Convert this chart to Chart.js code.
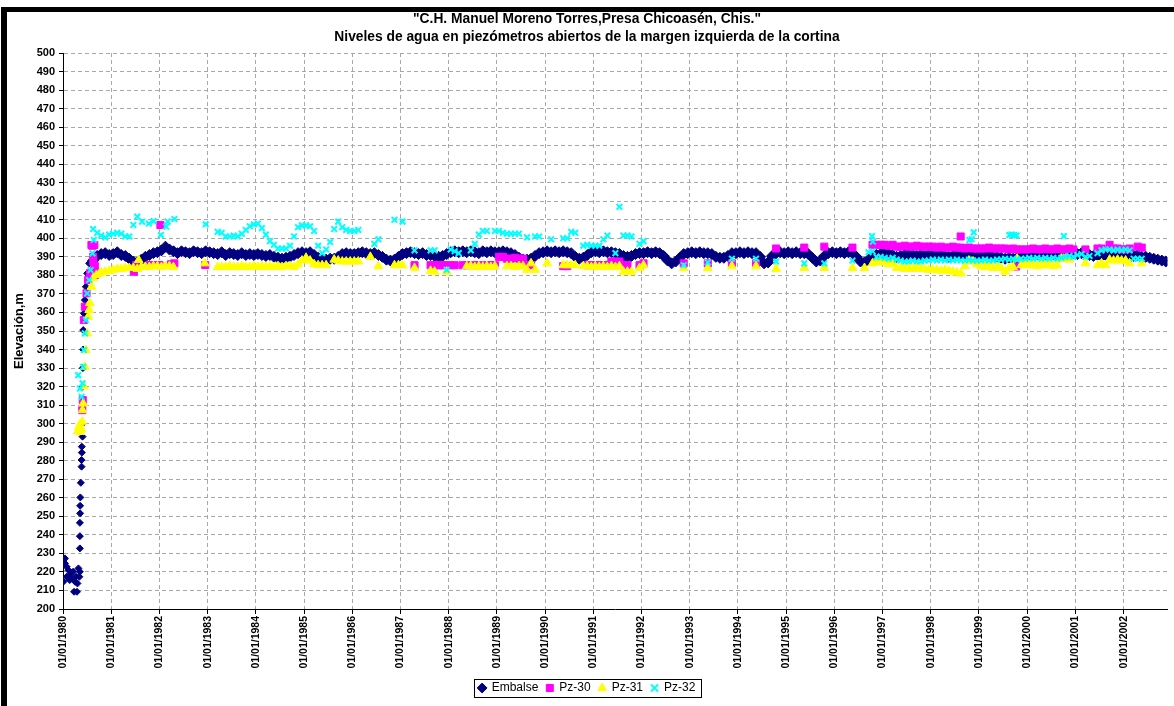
<!DOCTYPE html>
<html>
<head>
<meta charset="utf-8">
<title>Chicoasén - piezómetros margen izquierda</title>
<script src="https://cdn.jsdelivr.net/npm/chart.js@4.4.0/dist/chart.umd.min.js"></script>
<style>
    html, body { margin: 0; padding: 0; background: #fff; }
    #wrap { position: relative; width: 1174px; height: 706px; overflow: hidden; }
    #frame {
        position: absolute; left: 1px; top: 7px; width: 1400px; height: 900px;
        border-left: 6px solid #000; border-top: 5px solid #000; pointer-events: none;
    }
</style>
</head>
<body>
<div id="wrap">
    <canvas id="chart" width="1174" height="706"></canvas>
    <div id="frame"></div>
</div>
<script>
const _ = null;

const chartTitle = [
    '"C.H. Manuel Moreno Torres,Presa Chicoasén, Chis."',
    'Niveles de agua en piezómetros abiertos de la margen izquierda de la cortina'
];
const yTitle = 'Elevación,m';
const seriesNames = ['Embalse', 'Pz-30', 'Pz-31', 'Pz-32'];

// x axis: one tick per year, labelled 01/01/yyyy
const firstYear = 1980;
const yearTicks = [1980, 1981, 1982, 1983, 1984, 1985, 1986, 1987, 1988, 1989, 1990, 1991,
                   1992, 1993, 1994, 1995, 1996, 1997, 1998, 1999, 2000, 2001, 2002];
const lastYearShown = 2002.91;
const yMin = 200;
const yMax = 500;
const yStep = 10;

// Embalse: readings during the filling of 1980 (decimal year, elevation m)
const embalseEarly = [
    [1980.007, 226.4], [1980.04, 227.3], [1980.04, 224.6], [1980.075, 222.8], [1980.007, 214.7],
    [1980.075, 217.4], [1980.11, 221], [1980.14, 218.3], [1980.14, 215.6], [1980.18, 216.5],
    [1980.21, 220.1], [1980.23, 209.3], [1980.25, 214.7], [1980.27, 217.4], [1980.29, 209.3],
    [1980.3, 213.8], [1980.32, 221.9], [1980.34, 217.4], [1980.35, 220.1],
    [1980.35, 232.7], [1980.35, 239.3], [1980.35, 246.5], [1980.355, 251.6], [1980.355, 255.7],
    [1980.36, 260.2], [1980.37, 268.1], [1980.385, 276.8], [1980.385, 280.4], [1980.39, 284.4],
    [1980.39, 287.6], [1980.405, 293], [1980.402, 300], [1980.406, 310], [1980.412, 320],
    [1980.412, 330], [1980.419, 340], [1980.42, 350.5], [1980.433, 359.5], [1980.454, 366.7],
    [1980.474, 373.9], [1980.501, 381.1], [1980.542, 386.5]
];

// Embalse: one reading per month (Jan..Dec), one row per year from 1980
const embalseMonthly = [
    [_, _, _, _, _, _, _, 388, 390.5, 391.5, 392, 391],
    [391.5, 392.5, 391, 390.5, 389, 387.5, 387, 388.5, 390, 391, 392, 392.5],
    [393.5, 395.5, 394, 393, 392, 393, 392.5, 392, 393, 392.5, 392, 393],
    [392.5, 392, 391.5, 392.5, 391, 392, 391.5, 391, 392, 391, 391.5, 391],
    [391.5, 391, 390.5, 391, 390, 389.5, 389, 389.5, 390, 391, 392, 392.5],
    [392, 392.5, 391, 389.5, 388.5, 388.5, 389, 389, 390, 391.5, 392, 391.5],
    [391.5, 392, 392.5, 392, 391.5, 392, 391, 390, 388.5, 388, 388.5, 390],
    [391.5, 392, 392.5, 392, 391.5, 392, 391, 391, 390.5, 390, 390.5, 391.5],
    [392.5, 393, 392.5, 393, 392.5, 393, 392.5, 392, 393, 392.5, 393, 392.5],
    [392.5, 393, 392.5, 392, 391, 389.5, 388.5, 388.5, 389, 390.5, 392, 392.5],
    [393, 392.5, 393, 392.5, 393, 392.5, 392, 390, 389, 389.5, 391, 392.5],
    [393, 392.5, 393, 392.5, 392.5, 392, 391.5, 390.5, 390, 390.5, 391.5, 392],
    [392, 392.5, 392, 392.5, 392, 390.5, 388, 386.5, 387.5, 389.5, 391.5, 392],
    [392.5, 392, 392.5, 392, 392, 391.5, 390, 389.5, 389.5, 390.5, 392, 392],
    [392.5, 392, 392.5, 392, 392, 390, 386.5, 387, 390.5, 392, 392.5, 392],
    [392.5, 392, 392.5, 392, 392, 391.5, 389.5, 387.5, 388, 390.5, 392, 392.5],
    [392, 392.5, 392, 392.5, 392, 390, 387.5, 387, 388.5, 390, 391, 391.5],
    [392, 391.5, 391, 390, 390.5, 391, 391.5, 391, 390.5, 391, 390.5, 391],
    [391, 391.5, 391, 390.5, 390, 390.5, 391, 391.5, 391, 391.5, 390.5, 391],
    [391, 391.5, 391, 390.5, 390, 389.5, 389, 389.5, 389, 389.5, 390, 391],
    [391.5, 392, 391.5, 392, 391.5, 392, 391.5, 391, 391.5, 392, 391.5, 392],
    [391.5, 392, 391.5, 391, 390.5, 391, 390.5, 391, 390.5, 391, 390.5, 391],
    [390.5, 391, 390.5, 391, 390, 390, 389.5, 389, 388.5, 388, 387.5, _]
];

// Pz-30: isolated readings (decimal year, elevation m)
const pz30Extra = [
    [1980.40, 307.3], [1980.41, 312.7], [1980.433, 355.9], [1980.454, 363.1], [1980.488, 370.3],
    [1980.521, 377.5], [1980.557, 381.1], [1980.59, 396.4], [1980.61, 396], [1980.65, 396.4],
    [1980.625, 390], [1980.63, 387.4], [1980.66, 385], [1980.65, 382.9], [1980.66, 380.2],
    [1981.47, 382], [1981.48, 383.8], [1981.52, 385.6], [1981.79, 385.6], [1981.9, 385.6],
    [1982.0, 385.6], [1982.02, 407.2], [1982.24, 386], [1982.31, 386.5], [1982.95, 385.6],
    [1998.62, 401], [1999.77, 384.8]
];

// Pz-30: monthly readings, one row per year from 1980
const pz30Monthly = [
    [_, _, _, _, _, _, _, _, _, _, _, _],
    [_, _, _, _, _, _, _, _, _, _, _, _],
    [_, _, _, _, _, _, _, _, _, _, _, _],
    [_, _, _, _, _, _, _, _, _, _, _, _],
    [_, _, _, _, _, _, _, _, _, _, _, _],
    [_, _, _, _, _, _, _, _, _, _, _, _],
    [_, _, _, _, _, _, _, _, _, _, _, _],
    [_, _, _, 385.5, _, _, _, 385.5, 385.5, 385.5, 385.5, 385.5],
    [385.5, 385.5, _, 385.5, 385.5, _, 385.5, 385.5, _, 385.5, 385.5, 385.5],
    [390, 390, 389, 389, 389.5, 389, 389, 385.5, 385.5, _, _, _],
    [_, _, _, _, 385, 385, _, _, _, _, 385.5, 385.5],
    [385.5, 385.5, 385.5, 385.5, 387.5, 387.5, 387.5, 385.5, 385.5, _, _, 385.5],
    [386.5, _, _, _, _, _, _, _, _, _, 386.5, _],
    [_, _, _, _, 386.5, _, _, _, _, _, 386.5, _],
    [_, _, _, _, 386.5, _, _, _, _, 394.5, _, _],
    [_, _, _, _, 395, _, _, _, _, 395.5, _, _],
    [_, _, _, _, 395, _, _, _, _, 396.5, 396.5, 396.5],
    [396.5, 396, 396.5, 395.5, 395.5, 396, 395.5, 395.5, 396, 395.5, 395.5, 395.5],
    [395.5, 395, 395.5, 395, 395, 395.5, 395, 395, 394.5, 395, 394.5, 394.5],
    [394.5, 394.5, 395, 394.5, 394.5, 394.5, 394.5, 394, 394.5, 394, 394, 394],
    [394, 394.5, 394, 394, 394.5, 394, 394, 394.5, 394, 394, 394.5, 394],
    [_, _, 394, _, _, 394.5, 394.5, _, 396.5, 394.5, 394.5, 394],
    [394, 394.5, _, 395.5, 395, _, _, _, _, _, _, _]
];

// Pz-31: isolated readings (decimal year, elevation m)
const pz31Extra = [
    [1980.31, 296], [1980.33, 298], [1980.35, 299.5], [1980.36, 295.5], [1980.38, 297],
    [1980.40, 301], [1980.405, 307.3], [1980.418, 310.9], [1980.433, 320], [1980.454, 330.7],
    [1980.474, 339.7], [1980.501, 348.7], [1980.522, 357.7], [1980.542, 361.3], [1980.557, 365],
    [1980.59, 373.9], [1980.625, 378.4], [1980.694, 380.2], [1980.76, 381.1],
    [1981.57, 388.3], [1982.94, 386.5]
];

// Pz-31: monthly readings, one row per year from 1980
const pz31Monthly = [
    [_, _, _, _, _, _, _, _, _, 381.5, 382, 382.5],
    [383, 383.5, 383.5, 384, 384, 384, 383.5, 384.5, 384.5, 384.5, 385, 385],
    [384.5, 385, 385, 384.5, _, _, _, _, _, _, _, _],
    [_, _, 384.5, 384.5, 384.5, 385, 384.5, 384.5, 385, 384.5, 384.5, 385],
    [384.5, 385, 384.5, 385, 384.5, 385, 384.5, 385, 385, 384.5, 386, 388],
    [389.5, 388, 386, 385.5, 385.5, 385.5, _, 388.5, 388, 387.5, 387.5, 387.5],
    [387.5, 387.5, _, _, 390, _, 385, _, _, _, 385.5, 385.5],
    [385.5, _, _, 384, _, _, _, 382.5, 382, _, _, 382],
    [_, _, _, _, 385, 385, 384.5, 385, 384.5, 385, 384.5, 385],
    [_, _, 385, 385, 384.5, 385, 385, 383, 386.5, 383, _, _],
    [386.5, _, _, _, 385.5, 385.5, 385.5, 385.5, _, 385, 385, 384.5],
    [385, 384.5, 385, 384.5, 385, 384.5, 385, 382, 382, 382, _, 384],
    [385.5, _, _, _, _, _, _, _, _, _, 384, _],
    [_, _, _, _, 384, _, _, _, _, _, 385, _],
    [_, _, _, _, 385, _, _, _, _, 383.5, _, _],
    [_, _, _, _, 384, _, _, _, _, 384, _, _],
    [_, _, _, _, 384, _, _, 384, _, 386.5, 387, 387.5],
    [387, 386, 386.5, 384, 384, 383.5, 384, 383.5, 384, 383.5, 383.5, 383],
    [383, 383, 382.5, 383, 382.5, 382, 381.5, 381, 385, 388, 387.5, 386],
    [385, 384.5, 384.5, 384, 384.5, 384, 382, 384, 384.5, 389, 385.5, 385.5],
    [385.5, 385.5, 385, 385.5, 385.5, 385.5, 385, 385.5, 389, 389, 388.5, _],
    [_, _, 386.5, _, _, 385.5, 386.5, 385.5, 388.5, 388, 388.5, 388],
    [388, 386.5, _, _, 386.5, _, _, _, _, _, _, _]
];

// Pz-32: isolated readings (decimal year, elevation m)
const pz32Extra = [
    [1980.315, 326.2], [1980.35, 319], [1980.385, 314.5], [1980.405, 321.8], [1980.419, 330.7],
    [1980.433, 339.7], [1980.454, 348.7], [1980.474, 355.9], [1980.501, 370.3], [1980.542, 377.5],
    [1980.571, 382.9], [1980.612, 391.9], [1980.639, 399.1],
    [1981.46, 407.2], [1981.54, 411.7], [1981.64, 409], [1981.78, 408], [1981.88, 409.3],
    [1982.03, 401.8], [1982.14, 406.3], [1982.17, 409], [1982.31, 410.4], [1982.96, 407.6],
    [1996.78, 401.2], [1996.8, 398.2], [1998.8, 399.1], [1998.85, 399.5], [1998.89, 403.2],
    [1999.63, 401.8], [1999.68, 402], [1999.73, 401.8], [1999.78, 401.5], [2000.76, 401.2]
];

// Pz-32: monthly readings, one row per year from 1980
const pz32Monthly = [
    [_, _, _, _, _, _, _, 405, 403, 401.5, 400.5, 402],
    [402.5, 403, 402.5, 401, 401, _, _, _, _, _, _, _],
    [_, _, _, _, _, _, _, _, _, _, _, _],
    [_, _, 403.5, 403, 401, 401, 401.5, 401, 402.5, 404.5, 406.5, 407.5],
    [408, 405.5, 402, 398.5, 396.5, 394.5, 394.5, 394.5, 396, 401, 406, 407],
    [407, 406.5, 404, 396, 392, 394, 398, 405, 409, 406, 404.5, 404],
    [404, 404.5, _, _, _, 397, 399.5, _, _, _, 410, _],
    [409, _, _, 393.5, _, _, _, 393.5, 393.5, _, _, 383],
    [394, 393, 392, _, _, 393.5, 397, 402, 404, 404, _, 404],
    [404, 403, 402.5, 402.5, 402.5, 402.5, _, 400.5, _, 401, 401, _],
    [_, 399.5, _, _, 400, 400, 403.5, 403, _, 396, 396.5, 396],
    [396, 396, 399.5, 401.5, _, 392, 417, 401.5, 401.5, 401, _, 397],
    [398.5, _, _, _, _, _, _, _, _, _, 385.5, _],
    [_, _, _, _, 387, _, _, _, _, _, 389, _],
    [_, _, _, _, 389, _, _, _, _, 387.5, _, _],
    [_, _, _, _, 386.5, _, _, _, _, 386.5, _, _],
    [_, _, _, _, 388, _, _, _, 392.5, 393, 390, 390],
    [389.5, 389, 389.5, 388.5, 388, 387.5, 387.5, 388, 387.5, 387.5, 388, 388],
    [388.5, 388, 388.5, 388, 388.5, 388, 388.5, 388, 388, 388.5, 388, 388],
    [388, 388.5, 388, 388, 388.5, 388.5, 389, 388.5, 389, 388.5, 389, 389],
    [389.5, 389, 389.5, 389, 389.5, 389, 389.5, 389, 389.5, 390, 390.5, 390],
    [391, 391.5, 390, 390.5, _, 392, 393.5, 394, 394, 393.5, 394, 393.5],
    [394, 393.5, 389, 389, 389, _, _, _, _, _, _, _]
];

const colors = {
    embalse: '#000080',
    pz30: '#ff00ff',
    pz31: '#ffff00',
    pz32: '#00ffff',
    grid: '#a8a8a8',
    text: '#000000'
};

/**
 * Monthly rows -> scatter points, placed at the middle of each month
 */
function fromMonthly(rows) {
    const points = [];
    rows.forEach((row, yearIndex) => {
        row.forEach((value, month) => {
            if (value === null) return;
            points.push({ x: firstYear + yearIndex + (month + 0.5) / 12, y: value });
        });
    });
    return points;
}

/**
 * [year, value] pairs -> scatter points
 */
function fromPairs(pairs) {
    return pairs.map(p => ({ x: p[0], y: p[1] }));
}

/**
 * Draw a thin frame round the legend items, like the Excel legend box
 */
const legendFrame = {
    id: 'legendFrame',
    afterDraw(chart) {
        const boxes = chart.legend && chart.legend.legendHitBoxes;
        if (!boxes || !boxes.length) return;
        const left = Math.min(...boxes.map(b => b.left)) - 5;
        const right = Math.max(...boxes.map(b => b.left + b.width)) + 5;
        const top = boxes[0].top - 3;
        const bottom = boxes[0].top + boxes[0].height + 3;
        const ctx = chart.ctx;
        ctx.save();
        ctx.strokeStyle = '#000';
        ctx.lineWidth = 1;
        ctx.strokeRect(Math.round(left) + 0.5, Math.round(top) + 0.5, Math.round(right - left), Math.round(bottom - top));
        ctx.restore();
    }
};

Chart.defaults.font.family = "'Liberation Sans', Arial, sans-serif";
Chart.defaults.color = colors.text;

const gridOptions = {
    color: colors.grid,
    lineWidth: 1,
    tickLength: 5,
    tickColor: '#000',
    tickWidth: 1,
    tickBorderDash: []
};

const ctx = document.getElementById('chart').getContext('2d');

new Chart(ctx, {
    type: 'scatter',
    data: {
        datasets: [
            {
                label: seriesNames[0],
                data: fromPairs(embalseEarly).concat(fromMonthly(embalseMonthly)),
                pointStyle: 'rectRot',
                pointRadius: c => (c.raw && c.raw.x < 1980.58 ? 3.5 : 5.5),
                backgroundColor: colors.embalse,
                borderColor: colors.embalse,
                borderWidth: 1,
                order: 4
            },
            {
                label: seriesNames[1],
                data: fromPairs(pz30Extra).concat(fromMonthly(pz30Monthly)),
                pointStyle: 'rect',
                pointRadius: 5,
                backgroundColor: colors.pz30,
                borderColor: colors.pz30,
                borderWidth: 1,
                order: 3
            },
            {
                label: seriesNames[2],
                data: fromPairs(pz31Extra).concat(fromMonthly(pz31Monthly)),
                pointStyle: 'triangle',
                pointRadius: 5,
                backgroundColor: colors.pz31,
                borderColor: colors.pz31,
                borderWidth: 1,
                order: 2
            },
            {
                label: seriesNames[3],
                data: fromPairs(pz32Extra).concat(fromMonthly(pz32Monthly)),
                pointStyle: 'crossRot',
                pointRadius: 4,
                backgroundColor: colors.pz32,
                borderColor: colors.pz32,
                borderWidth: 2,
                order: 1
            }
        ]
    },
    options: {
        responsive: false,
        animation: false,
        events: [],
        layout: { padding: { left: 0, right: 0, top: 0, bottom: 2 } },
        plugins: {
            title: {
                display: true,
                text: chartTitle,
                color: colors.text,
                font: { size: 13.8, weight: 'bold', lineHeight: 18 / 13.8 },
                padding: { top: 10, bottom: 7 }
            },
            legend: {
                display: true,
                position: 'bottom',
                labels: {
                    usePointStyle: true,
                    boxWidth: 7,
                    boxHeight: 7,
                    padding: 8,
                    color: colors.text,
                    font: { size: 12 },
                    sort: (a, b) => a.datasetIndex - b.datasetIndex
                }
            },
            tooltip: { enabled: false }
        },
        scales: {
            x: {
                type: 'linear',
                position: 'bottom',
                min: firstYear,
                max: lastYearShown,
                afterBuildTicks: scale => {
                    scale.ticks = yearTicks.map(v => ({ value: v }));
                },
                afterFit: scale => { scale.height = 65; },
                ticks: {
                    autoSkip: false,
                    maxRotation: 90,
                    minRotation: 90,
                    padding: 2,
                    color: colors.text,
                    font: { size: 10.5, weight: 'bold' },
                    callback: value => '01/01/' + value
                },
                grid: gridOptions,
                border: { color: '#000', width: 1, dash: [4, 3] }
            },
            y: {
                min: yMin,
                max: yMax,
                afterFit: scale => { scale.width = 63; },
                ticks: {
                    stepSize: yStep,
                    autoSkip: false,
                    padding: 4,
                    color: colors.text,
                    font: { size: 11, weight: 'bold' }
                },
                title: {
                    display: true,
                    text: yTitle,
                    color: colors.text,
                    font: { size: 13, weight: 'bold' },
                    padding: { top: 12, bottom: 0 }
                },
                grid: Object.assign({}, gridOptions, { tickLength: 4 }),
                border: { color: '#000', width: 1, dash: [4, 3] }
            }
        }
    },
    plugins: [legendFrame]
});
</script>
</body>
</html>
